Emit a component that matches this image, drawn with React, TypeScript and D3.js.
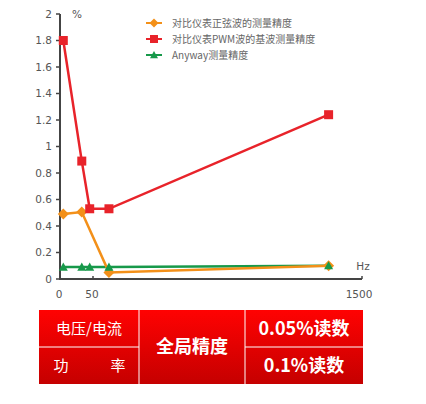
import React from "react";
import * as d3 from "d3";

const freqs = [5, 33, 45, 136, 1320];
const sineFreqs = [5, 33, 136, 1320];
const sineValues = [0.49, 0.505, 0.05, 0.1];
const pwmValues = [1.8, 0.89, 0.53, 0.53, 1.24];
const anywayValues = [0.09, 0.09, 0.09, 0.09, 0.1];
const yTicks = [0, 0.2, 0.4, 0.6, 0.8, 1, 1.2, 1.4, 1.6, 1.8, 2];
const xTicks = [0, 50, 1500];
const legendLabels = ["对比仪表正弦波的测量精度", "对比仪表PWM波的基波测量精度", "Anyway测量精度"];
const tableLeft = ["电压/电流", "功率"];
const tableCenter = "全局精度";
const tableRight = ["0.05%读数", "0.1%读数"];

const ORANGE = "#f39019";
const RED = "#e8232a";
const GREEN = "#17994a";
const FONT = "'DejaVu Sans', 'Noto Sans CJK SC', sans-serif";
const CJK = "'Noto Sans CJK SC', sans-serif";

export default function App() {
  const x = d3.scaleLinear().domain([0, 50, 1500]).range([60, 93, 362]);
  const y = d3.scaleLinear().domain([0, 2]).range([279, 14]);
  const line = d3.line<[number, number]>().x((d) => x(d[0])).y((d) => y(d[1]));

  const sine = sineFreqs.map((f, i) => [f, sineValues[i]] as [number, number]);
  const pwm = freqs.map((f, i) => [f, pwmValues[i]] as [number, number]);
  const any = freqs.map((f, i) => [f, anywayValues[i]] as [number, number]);

  const diamond = (cx: number, cy: number, r: number) =>
    `M${cx},${cy - r}L${cx + r},${cy}L${cx},${cy + r}L${cx - r},${cy}Z`;
  const tri = (cx: number, cy: number, r: number) =>
    `M${cx},${cy - r}L${cx + r},${cy + r * 0.8}L${cx - r},${cy + r * 0.8}Z`;

  const colors = [ORANGE, RED, GREEN];

  const tx0 = 39, tx1 = 139, tx2 = 245, tx3 = 363;
  const ty0 = 310, ty1 = 347, ty2 = 384;

  return (
    <svg width={426} height={404} style={{ position: "absolute", left: 0, top: 0, background: "#fff" }}>
      <defs>
        <linearGradient id="redg" x1="0" y1="0" x2="0" y2="1">
          <stop offset="0" stopColor="#ff0202" />
          <stop offset="1" stopColor="#c50000" />
        </linearGradient>
      </defs>
      {/* axes */}
      <line x1={60} x2={60} y1={y(2)} y2={y(0)} stroke="#444" strokeWidth={2} />
      <line x1={59} x2={x(1500)} y1={y(0)} y2={y(0)} stroke="#444" strokeWidth={2} />
      {yTicks.map((t) => (
        <g key={t}>
          <line x1={56} x2={60} y1={y(t)} y2={y(t)} stroke="#444" strokeWidth={1.5} />
          <text x={52} y={y(t)} dy="0.35em" textAnchor="end" fontSize={10.5} fill="#555" fontFamily={FONT}>
            {String(t)}
          </text>
        </g>
      ))}
      {xTicks.map((t) => (
        <g key={t}>
          <line x1={x(t)} x2={x(t)} y1={y(0)} y2={y(0) - 3} stroke="#444" strokeWidth={1.5} />
          <text x={x(t) - (t === 1500 ? 3 : 1)} y={294} dy="0.35em" textAnchor="middle" fontSize={10.5} fill="#555" fontFamily={FONT}>
            {String(t)}
          </text>
        </g>
      ))}
      <text x={77} y={14} dy="0.35em" textAnchor="middle" fontSize={10.5} fill="#555" fontFamily={FONT}>%</text>
      <text x={363} y={266} dy="0.35em" textAnchor="middle" fontSize={10.5} fill="#555" fontFamily={FONT}>Hz</text>

      {/* series */}
      <path d={line(any) || ""} fill="none" stroke={GREEN} strokeWidth={2.5} />
      <path d={line(sine) || ""} fill="none" stroke={ORANGE} strokeWidth={2.5} />
      <path d={line(pwm) || ""} fill="none" stroke={RED} strokeWidth={2.5} />
      {sine.map((d, i) => (
        <path key={"s" + i} d={diamond(x(d[0]), y(d[1]), 5.5)} fill={ORANGE} />
      ))}
      {pwm.map((d, i) => (
        <rect key={"p" + i} x={x(d[0]) - 4.5} y={y(d[1]) - 4.5} width={9} height={9} fill={RED} />
      ))}
      {any.map((d, i) => (
        <path key={"a" + i} d={tri(x(d[0]), y(d[1]), 4.5)} fill={GREEN} />
      ))}

      {/* legend */}
      {legendLabels.map((lab, i) => {
        const ly = 23 + i * 16;
        return (
          <g key={lab}>
            <line x1={146} x2={162} y1={ly} y2={ly} stroke={colors[i]} strokeWidth={2} />
            {i === 0 && <path d={diamond(154, ly, 4.5)} fill={ORANGE} />}
            {i === 1 && <rect x={150} y={ly - 4} width={8} height={8} fill={RED} />}
            {i === 2 && <path d={tri(154, ly, 4)} fill={GREEN} />}
            <text x={172} y={ly} dy="0.35em" fontSize={10} fill="#666" fontFamily={CJK}>
              {lab}
            </text>
          </g>
        );
      })}

      {/* table */}
      <rect x={tx0} y={ty0} width={tx3 - tx0} height={ty2 - ty0} fill="url(#redg)" />
      <line x1={tx1} x2={tx1} y1={ty0} y2={ty2} stroke="#fff" strokeWidth={1} />
      <line x1={tx2} x2={tx2} y1={ty0} y2={ty2} stroke="#fff" strokeWidth={1} />
      <line x1={tx0} x2={tx1} y1={ty1} y2={ty1} stroke="#fff" strokeWidth={1} />
      <line x1={tx2} x2={tx3} y1={ty1} y2={ty1} stroke="#fff" strokeWidth={1} />
      <text x={(tx0 + tx1) / 2} y={(ty0 + ty1) / 2} dy="0.35em" textAnchor="middle" fontSize={15} fill="#fff" fontFamily={CJK}>
        {tableLeft[0]}
      </text>
      <text x={61} y={(ty1 + ty2) / 2} dy="0.35em" textAnchor="middle" fontSize={15} fill="#fff" fontFamily={CJK}>
        {tableLeft[1][0]}
      </text>
      <text x={118} y={(ty1 + ty2) / 2} dy="0.35em" textAnchor="middle" fontSize={15} fill="#fff" fontFamily={CJK}>
        {tableLeft[1][1]}
      </text>
      <text x={(tx1 + tx2) / 2} y={ty1} dy="0.35em" textAnchor="middle" fontSize={18} fontWeight="bold" fill="#fff" fontFamily={CJK}>
        {tableCenter}
      </text>
      {tableRight.map((t, i) => (
        <text key={t} x={(tx2 + tx3) / 2} y={i === 0 ? (ty0 + ty1) / 2 : (ty1 + ty2) / 2} dy="0.35em" textAnchor="middle" fontSize={18} fontWeight="bold" fill="#fff" fontFamily={CJK}>
          {t}
        </text>
      ))}
    </svg>
  );
}
